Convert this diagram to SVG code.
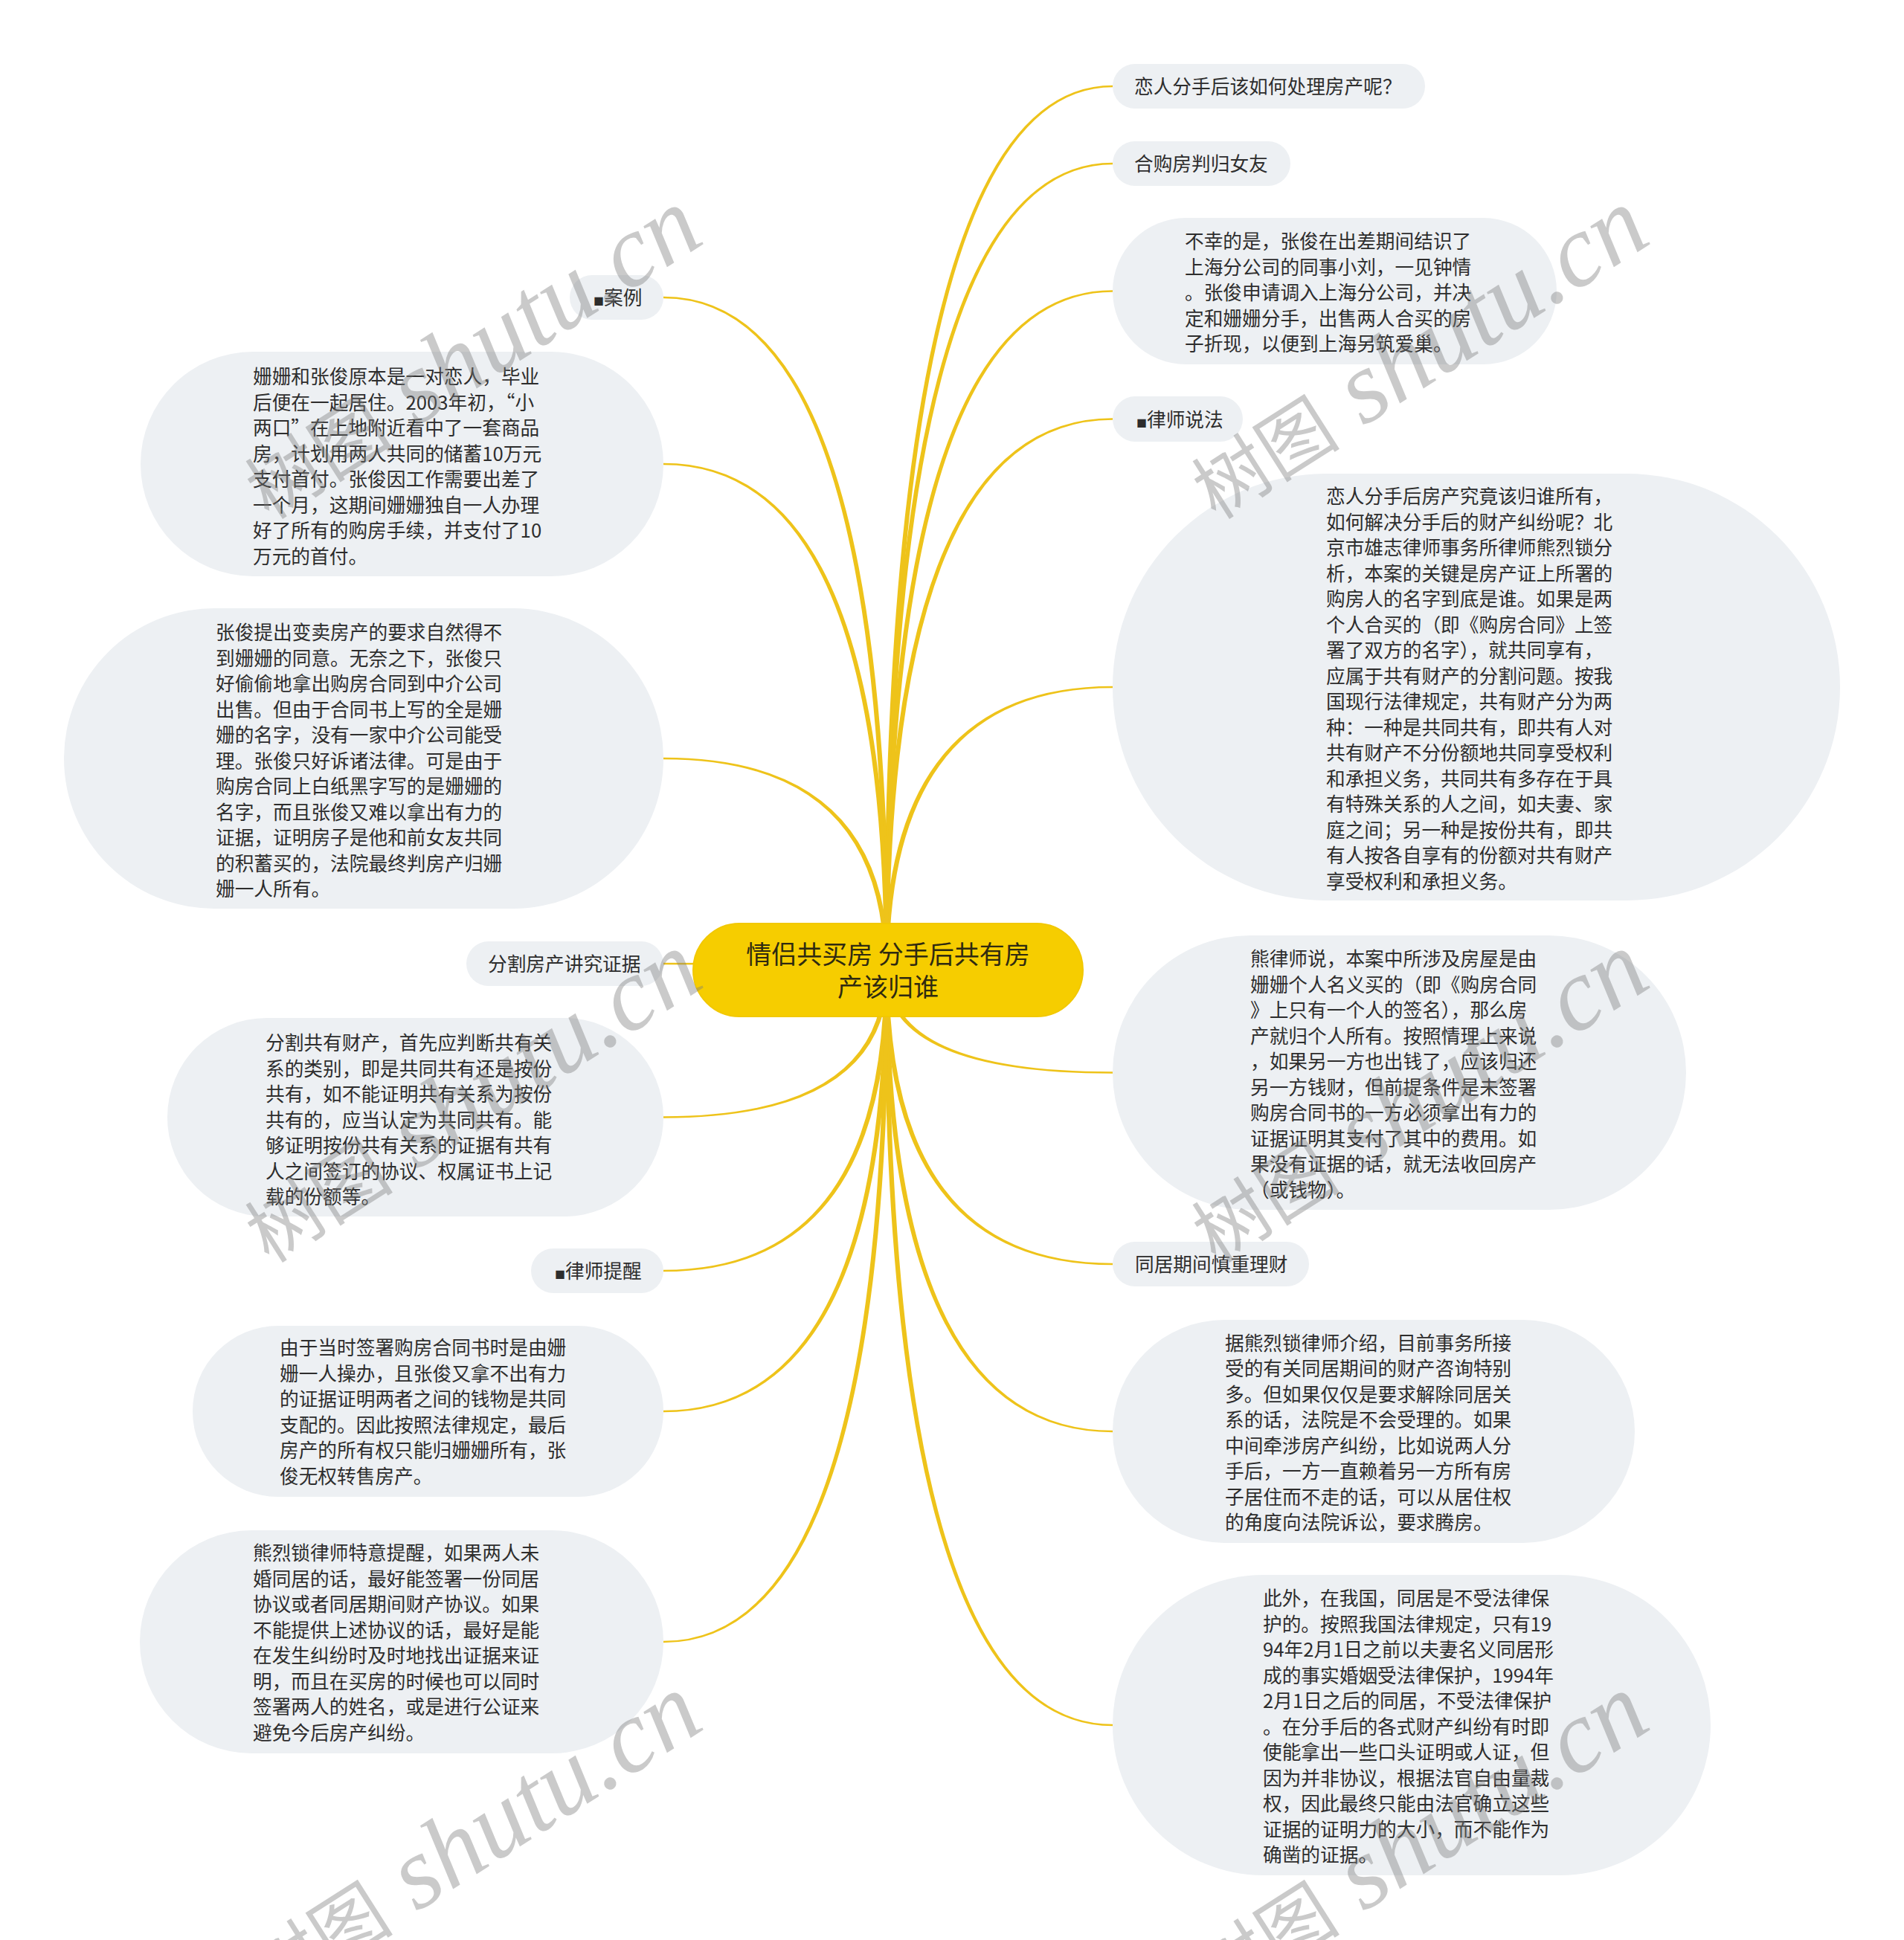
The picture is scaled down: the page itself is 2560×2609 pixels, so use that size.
<svg xmlns="http://www.w3.org/2000/svg" width="2560" height="2609" viewBox="0 0 2560 2609">
<style>
.bg{fill:#FFFFFF}
.n{fill:#EDF0F3}
.t{font-family:"Noto Sans CJK SC","Noto Sans",sans-serif;font-size:25.7px;fill:#2d2d2d}
.sq{font-size:14px}
.root{fill:#F6CD00;stroke:#F2C800;stroke-width:2}
.rt{font-family:"Noto Sans CJK SC","Noto Sans",sans-serif;font-size:34px;fill:#2f2a10;text-anchor:middle}
.c{fill:#EEC31A}
.wm{font-family:"Liberation Serif","Noto Sans CJK SC",serif;font-style:italic;fill:#7a7a7a;fill-opacity:0.4}
.wc{font-family:"Noto Sans CJK SC",sans-serif;font-style:normal;font-size:100px}
.wl{font-size:138px}
</style>
<rect class="bg" x="0" y="0" width="2560" height="2609"/>

<g id="connectors">
<path class="c" d="M1188.8 1304 Q1188.8 114.8 1496 114.8 L1496 117.2 Q1195.2 117.2 1195.2 1304 Z"/>
<path class="c" d="M1188.8 1304 Q1188.8 218.8 1496 218.8 L1496 221.2 Q1195.2 221.2 1195.2 1304 Z"/>
<path class="c" d="M1188.8 1304 Q1188.8 390.3 1496 390.3 L1496 392.7 Q1195.2 392.7 1195.2 1304 Z"/>
<path class="c" d="M1188.8 1304 Q1188.8 562.3 1496 562.3 L1496 564.7 Q1195.2 564.7 1195.2 1304 Z"/>
<path class="c" d="M1188.8 1304 Q1188.8 922.8 1496 922.8 L1496 925.2 Q1195.2 925.2 1195.2 1304 Z"/>
<path class="c" d="M1188.8 1304 Q1188.8 1443.7 1496 1443.7 L1496 1441.3 Q1195.2 1441.3 1195.2 1304 Z"/>
<path class="c" d="M1188.8 1304 Q1188.8 1701.2 1496 1701.2 L1496 1698.8 Q1195.2 1698.8 1195.2 1304 Z"/>
<path class="c" d="M1188.8 1304 Q1188.8 1926.2 1496 1926.2 L1496 1923.8 Q1195.2 1923.8 1195.2 1304 Z"/>
<path class="c" d="M1188.8 1304 Q1188.8 2321.2 1496 2321.2 L1496 2318.8 Q1195.2 2318.8 1195.2 1304 Z"/>
<path class="c" d="M1188.8 1304 Q1188.8 401.2 892 401.2 L892 398.8 Q1195.2 398.8 1195.2 1304 Z"/>
<path class="c" d="M1188.8 1304 Q1188.8 625.2 892 625.2 L892 622.8 Q1195.2 622.8 1195.2 1304 Z"/>
<path class="c" d="M1188.8 1304 Q1188.8 1021.2 892 1021.2 L892 1018.8 Q1195.2 1018.8 1195.2 1304 Z"/>
<path class="c" d="M1188.8 1304 Q1188.8 1297.2 892 1297.2 L892 1294.8 Q1195.2 1294.8 1195.2 1304 Z"/>
<path class="c" d="M1188.8 1304 Q1188.8 1501.3 892 1501.3 L892 1503.7 Q1195.2 1503.7 1195.2 1304 Z"/>
<path class="c" d="M1188.8 1304 Q1188.8 1707.8 892 1707.8 L892 1710.2 Q1195.2 1710.2 1195.2 1304 Z"/>
<path class="c" d="M1188.8 1304 Q1188.8 1896.8 892 1896.8 L892 1899.2 Q1195.2 1899.2 1195.2 1304 Z"/>
<path class="c" d="M1188.8 1304 Q1188.8 2206.8 892 2206.8 L892 2209.2 Q1195.2 2209.2 1195.2 1304 Z"/>
</g>

<g id="root">
<rect class="root" x="932" y="1242" width="524" height="125" rx="62.5"/>
<text class="rt" x="1194" y="1296">情侣共买房 分手后共有房</text>
<text class="rt" x="1194" y="1340">产该归谁</text>
</g>

<g id="r1">
<rect class="n" x="1496" y="86" width="420" height="60" rx="30"/>
<text class="t" x="1525" y="126">恋人分手后该如何处理房产呢？</text>
</g>
<g id="r2">
<rect class="n" x="1496" y="190" width="239" height="60" rx="30"/>
<text class="t" x="1525" y="230">合购房判归女友</text>
</g>
<g id="r3">
<rect class="n" x="1496" y="293" width="597" height="197" rx="98.5"/>
<text class="t" x="1593" y="334"><tspan x="1593">不幸的是，张俊在出差期间结识了</tspan><tspan x="1593" dy="34.5">上海分公司的同事小刘，一见钟情</tspan><tspan x="1593" dy="34.5">。张俊申请调入上海分公司，并决</tspan><tspan x="1593" dy="34.5">定和姗姗分手，出售两人合买的房</tspan><tspan x="1593" dy="34.5">子折现，以便到上海另筑爱巢。</tspan></text>
</g>
<g id="r4">
<rect class="n" x="1496" y="533" width="175" height="61" rx="30.5"/>
<text class="t" x="1528" y="574"><tspan class="sq">■</tspan>律师说法</text>
</g>
<g id="r5">
<rect class="n" x="1496" y="637" width="978" height="574" rx="287"/>
<text class="t" x="1783" y="677"><tspan x="1783">恋人分手后房产究竟该归谁所有，</tspan><tspan x="1783" dy="34.5">如何解决分手后的财产纠纷呢？北</tspan><tspan x="1783" dy="34.5">京市雄志律师事务所律师熊烈锁分</tspan><tspan x="1783" dy="34.5">析，本案的关键是房产证上所署的</tspan><tspan x="1783" dy="34.5">购房人的名字到底是谁。如果是两</tspan><tspan x="1783" dy="34.5">个人合买的（即《购房合同》上签</tspan><tspan x="1783" dy="34.5">署了双方的名字），就共同享有，</tspan><tspan x="1783" dy="34.5">应属于共有财产的分割问题。按我</tspan><tspan x="1783" dy="34.5">国现行法律规定，共有财产分为两</tspan><tspan x="1783" dy="34.5">种：一种是共同共有，即共有人对</tspan><tspan x="1783" dy="34.5">共有财产不分份额地共同享受权利</tspan><tspan x="1783" dy="34.5">和承担义务，共同共有多存在于具</tspan><tspan x="1783" dy="34.5">有特殊关系的人之间，如夫妻、家</tspan><tspan x="1783" dy="34.5">庭之间；另一种是按份共有，即共</tspan><tspan x="1783" dy="34.5">有人按各自享有的份额对共有财产</tspan><tspan x="1783" dy="34.5">享受权利和承担义务。</tspan></text>
</g>
<g id="r6">
<rect class="n" x="1496" y="1258" width="771" height="369" rx="184.5"/>
<text class="t" x="1681" y="1299"><tspan x="1681">熊律师说，本案中所涉及房屋是由</tspan><tspan x="1681" dy="34.5">姗姗个人名义买的（即《购房合同</tspan><tspan x="1681" dy="34.5">》上只有一个人的签名），那么房</tspan><tspan x="1681" dy="34.5">产就归个人所有。按照情理上来说</tspan><tspan x="1681" dy="34.5">，如果另一方也出钱了，应该归还</tspan><tspan x="1681" dy="34.5">另一方钱财，但前提条件是未签署</tspan><tspan x="1681" dy="34.5">购房合同书的一方必须拿出有力的</tspan><tspan x="1681" dy="34.5">证据证明其支付了其中的费用。如</tspan><tspan x="1681" dy="34.5">果没有证据的话，就无法收回房产</tspan><tspan x="1681" dy="34.5">（或钱物）。</tspan></text>
</g>
<g id="r7">
<rect class="n" x="1496" y="1670" width="264" height="60" rx="30"/>
<text class="t" x="1526" y="1710">同居期间慎重理财</text>
</g>
<g id="r8">
<rect class="n" x="1496" y="1775" width="702" height="300" rx="150"/>
<text class="t" x="1647" y="1815.5"><tspan x="1647">据熊烈锁律师介绍，目前事务所接</tspan><tspan x="1647" dy="34.5">受的有关同居期间的财产咨询特别</tspan><tspan x="1647" dy="34.5">多。但如果仅仅是要求解除同居关</tspan><tspan x="1647" dy="34.5">系的话，法院是不会受理的。如果</tspan><tspan x="1647" dy="34.5">中间牵涉房产纠纷，比如说两人分</tspan><tspan x="1647" dy="34.5">手后，一方一直赖着另一方所有房</tspan><tspan x="1647" dy="34.5">子居住而不走的话，可以从居住权</tspan><tspan x="1647" dy="34.5">的角度向法院诉讼，要求腾房。</tspan></text>
</g>
<g id="r9">
<rect class="n" x="1496" y="2118" width="804" height="404" rx="202"/>
<text class="t" x="1698" y="2159"><tspan x="1698">此外，在我国，同居是不受法律保</tspan><tspan x="1698" dy="34.5">护的。按照我国法律规定，只有19</tspan><tspan x="1698" dy="34.5">94年2月1日之前以夫妻名义同居形</tspan><tspan x="1698" dy="34.5">成的事实婚姻受法律保护，1994年</tspan><tspan x="1698" dy="34.5">2月1日之后的同居，不受法律保护</tspan><tspan x="1698" dy="34.5">。在分手后的各式财产纠纷有时即</tspan><tspan x="1698" dy="34.5">使能拿出一些口头证明或人证，但</tspan><tspan x="1698" dy="34.5">因为并非协议，根据法官自由量裁</tspan><tspan x="1698" dy="34.5">权，因此最终只能由法官确立这些</tspan><tspan x="1698" dy="34.5">证据的证明力的大小，而不能作为</tspan><tspan x="1698" dy="34.5">确凿的证据。</tspan></text>
</g>

<g id="l1">
<rect class="n" x="766" y="370" width="126" height="60" rx="30"/>
<text class="t" x="798" y="410"><tspan class="sq">■</tspan>案例</text>
</g>
<g id="l2">
<rect class="n" x="189" y="473" width="703" height="302" rx="151"/>
<text class="t" x="340" y="516"><tspan x="340">姗姗和张俊原本是一对恋人，毕业</tspan><tspan x="340" dy="34.5">后便在一起居住。2003年初，“小</tspan><tspan x="340" dy="34.5">两口”在上地附近看中了一套商品</tspan><tspan x="340" dy="34.5">房，计划用两人共同的储蓄10万元</tspan><tspan x="340" dy="34.5">支付首付。张俊因工作需要出差了</tspan><tspan x="340" dy="34.5">一个月，这期间姗姗独自一人办理</tspan><tspan x="340" dy="34.5">好了所有的购房手续，并支付了10</tspan><tspan x="340" dy="34.5">万元的首付。</tspan></text>
</g>
<g id="l3">
<rect class="n" x="86" y="818" width="806" height="404" rx="202"/>
<text class="t" x="290" y="860"><tspan x="290">张俊提出变卖房产的要求自然得不</tspan><tspan x="290" dy="34.5">到姗姗的同意。无奈之下，张俊只</tspan><tspan x="290" dy="34.5">好偷偷地拿出购房合同到中介公司</tspan><tspan x="290" dy="34.5">出售。但由于合同书上写的全是姗</tspan><tspan x="290" dy="34.5">姗的名字，没有一家中介公司能受</tspan><tspan x="290" dy="34.5">理。张俊只好诉诸法律。可是由于</tspan><tspan x="290" dy="34.5">购房合同上白纸黑字写的是姗姗的</tspan><tspan x="290" dy="34.5">名字，而且张俊又难以拿出有力的</tspan><tspan x="290" dy="34.5">证据，证明房子是他和前女友共同</tspan><tspan x="290" dy="34.5">的积蓄买的，法院最终判房产归姗</tspan><tspan x="290" dy="34.5">姗一人所有。</tspan></text>
</g>
<g id="l4">
<rect class="n" x="627" y="1266" width="265" height="60" rx="30"/>
<text class="t" x="656" y="1306">分割房产讲究证据</text>
</g>
<g id="l5">
<rect class="n" x="225" y="1369" width="667" height="267" rx="133.5"/>
<text class="t" x="357" y="1412"><tspan x="357">分割共有财产，首先应判断共有关</tspan><tspan x="357" dy="34.5">系的类别，即是共同共有还是按份</tspan><tspan x="357" dy="34.5">共有，如不能证明共有关系为按份</tspan><tspan x="357" dy="34.5">共有的，应当认定为共同共有。能</tspan><tspan x="357" dy="34.5">够证明按份共有关系的证据有共有</tspan><tspan x="357" dy="34.5">人之间签订的协议、权属证书上记</tspan><tspan x="357" dy="34.5">载的份额等。</tspan></text>
</g>
<g id="l6">
<rect class="n" x="714" y="1679" width="178" height="60" rx="30"/>
<text class="t" x="746" y="1719"><tspan class="sq">■</tspan>律师提醒</text>
</g>
<g id="l7">
<rect class="n" x="259" y="1783" width="633" height="230" rx="115"/>
<text class="t" x="376" y="1822"><tspan x="376">由于当时签署购房合同书时是由姗</tspan><tspan x="376" dy="34.5">姗一人操办，且张俊又拿不出有力</tspan><tspan x="376" dy="34.5">的证据证明两者之间的钱物是共同</tspan><tspan x="376" dy="34.5">支配的。因此按照法律规定，最后</tspan><tspan x="376" dy="34.5">房产的所有权只能归姗姗所有，张</tspan><tspan x="376" dy="34.5">俊无权转售房产。</tspan></text>
</g>
<g id="l8">
<rect class="n" x="188" y="2058" width="704" height="300" rx="150"/>
<text class="t" x="340" y="2098"><tspan x="340">熊烈锁律师特意提醒，如果两人未</tspan><tspan x="340" dy="34.5">婚同居的话，最好能签署一份同居</tspan><tspan x="340" dy="34.5">协议或者同居期间财产协议。如果</tspan><tspan x="340" dy="34.5">不能提供上述协议的话，最好是能</tspan><tspan x="340" dy="34.5">在发生纠纷时及时地找出证据来证</tspan><tspan x="340" dy="34.5">明，而且在买房的时候也可以同时</tspan><tspan x="340" dy="34.5">签署两人的姓名，或是进行公证来</tspan><tspan x="340" dy="34.5">避免今后房产纠纷。</tspan></text>
</g>

<g id="watermarks">
<text class="wm" transform="translate(362,700) rotate(-32.5)"><tspan class="wc">树图</tspan><tspan class="wl"> shutu.cn</tspan></text>
<text class="wm" transform="translate(1635,700) rotate(-32.5)"><tspan class="wc">树图</tspan><tspan class="wl"> shutu.cn</tspan></text>
<text class="wm" transform="translate(362,1700) rotate(-32.5)"><tspan class="wc">树图</tspan><tspan class="wl"> shutu.cn</tspan></text>
<text class="wm" transform="translate(1635,1700) rotate(-32.5)"><tspan class="wc">树图</tspan><tspan class="wl"> shutu.cn</tspan></text>
<text class="wm" transform="translate(362,2698) rotate(-32.5)"><tspan class="wc">树图</tspan><tspan class="wl"> shutu.cn</tspan></text>
<text class="wm" transform="translate(1635,2698) rotate(-32.5)"><tspan class="wc">树图</tspan><tspan class="wl"> shutu.cn</tspan></text>
</g>
</svg>
